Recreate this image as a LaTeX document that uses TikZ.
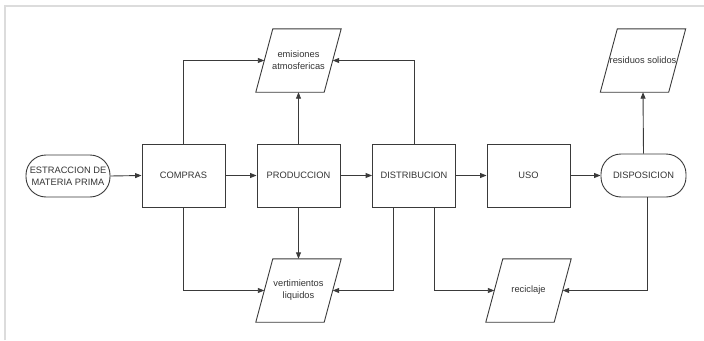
\documentclass[tikz,border=0pt]{standalone}
\usepackage{fontspec}
\setmainfont{Liberation Sans}
\usetikzlibrary{arrows.meta}
\definecolor{ln}{HTML}{3A3A3A}
\definecolor{tx}{HTML}{333333}
\definecolor{frame}{HTML}{DCDCDC}
\begin{document}
\begin{tikzpicture}[x=1pt,y=-1pt,
  every node/.style={font=\fontsize{9.3}{12}\selectfont, text=tx, align=center},
  procbox/.style={draw=ln, line width=0.9pt, rectangle, minimum width=83pt, minimum height=63pt, inner sep=0pt},
  termbox/.style={draw=ln, line width=0.9pt, rectangle, rounded corners=20pt, minimum width=85pt, minimum height=43pt, inner sep=0pt},
  parabox/.style={rectangle, minimum width=68pt, minimum height=63pt, inner sep=0pt},
  paraline/.style={draw=ln, line width=0.9pt, line join=miter},
  arr/.style={draw=ln, line width=0.9pt, -{Triangle[length=6.5pt,width=5pt]}},
]
\useasboundingbox (0,0) rectangle (704,340);
\draw[frame, line width=2pt] (5,340) -- (5,5.5) -- (704,5.5);

% terminators
\node[termbox, minimum width=84pt, minimum height=42pt] (est) at (68,176) {ESTRACCION DE\\MATERIA PRIMA};
\node[termbox] (disp) at (643.5,175.5) {DISPOSICION};

% processes
\node[procbox] (compras) at (183.5,175.5) {COMPRAS};
\node[procbox] (prod) at (298.5,175.5) {PRODUCCION};
\node[procbox] (dist) at (414,175.5) {DISTRIBUCION};
\node[procbox] (uso) at (528.5,175.5) {USO};

% data / outputs (parallelograms)
\node[parabox] (emis) at (298.5,60.5) {emisiones\\atmosfericas};
\node[parabox] (resid) at (643,60.5) {residuos solidos};
\node[parabox] (vert) at (298.5,290.5) {vertimientos\\liquidos};
\node[parabox] (recic) at (528.5,290.5) {reciclaje};
\foreach \p in {emis,resid,vert,recic}{
  \draw[paraline] ([xshift=-8.5pt]\p.south west) -- ([xshift=8.5pt]\p.north west)
    -- ([xshift=8.5pt]\p.north east) -- ([xshift=-8.5pt]\p.south east) -- cycle;
}

% main flow
\draw[arr] (est.east) -- (compras.west);
\draw[arr] (compras.east) -- (prod.west);
\draw[arr] (prod.east) -- (dist.west);
\draw[arr] (dist.east) -- (uso.west);
\draw[arr] (uso.east) -- (disp.west);

% to emisiones
\draw[arr] (compras.north) |- (emis.west);
\draw[arr] (dist.north) |- (emis.east);
\draw[arr] (prod.north) -- (emis.south);

% to vertimientos
\draw[arr] (prod.south) -- (vert.north);
\draw[arr] (compras.south) |- (vert.west);
\draw[arr] ([xshift=-21pt]dist.south) |- (vert.east);

% to reciclaje
\draw[arr] ([xshift=20pt]dist.south) |- (recic.west);
\draw[arr] ([xshift=3.5pt]disp.south) |- (recic.east);

% to residuos
\draw[arr] (disp.north) -- (resid.south);
\end{tikzpicture}
\end{document}
